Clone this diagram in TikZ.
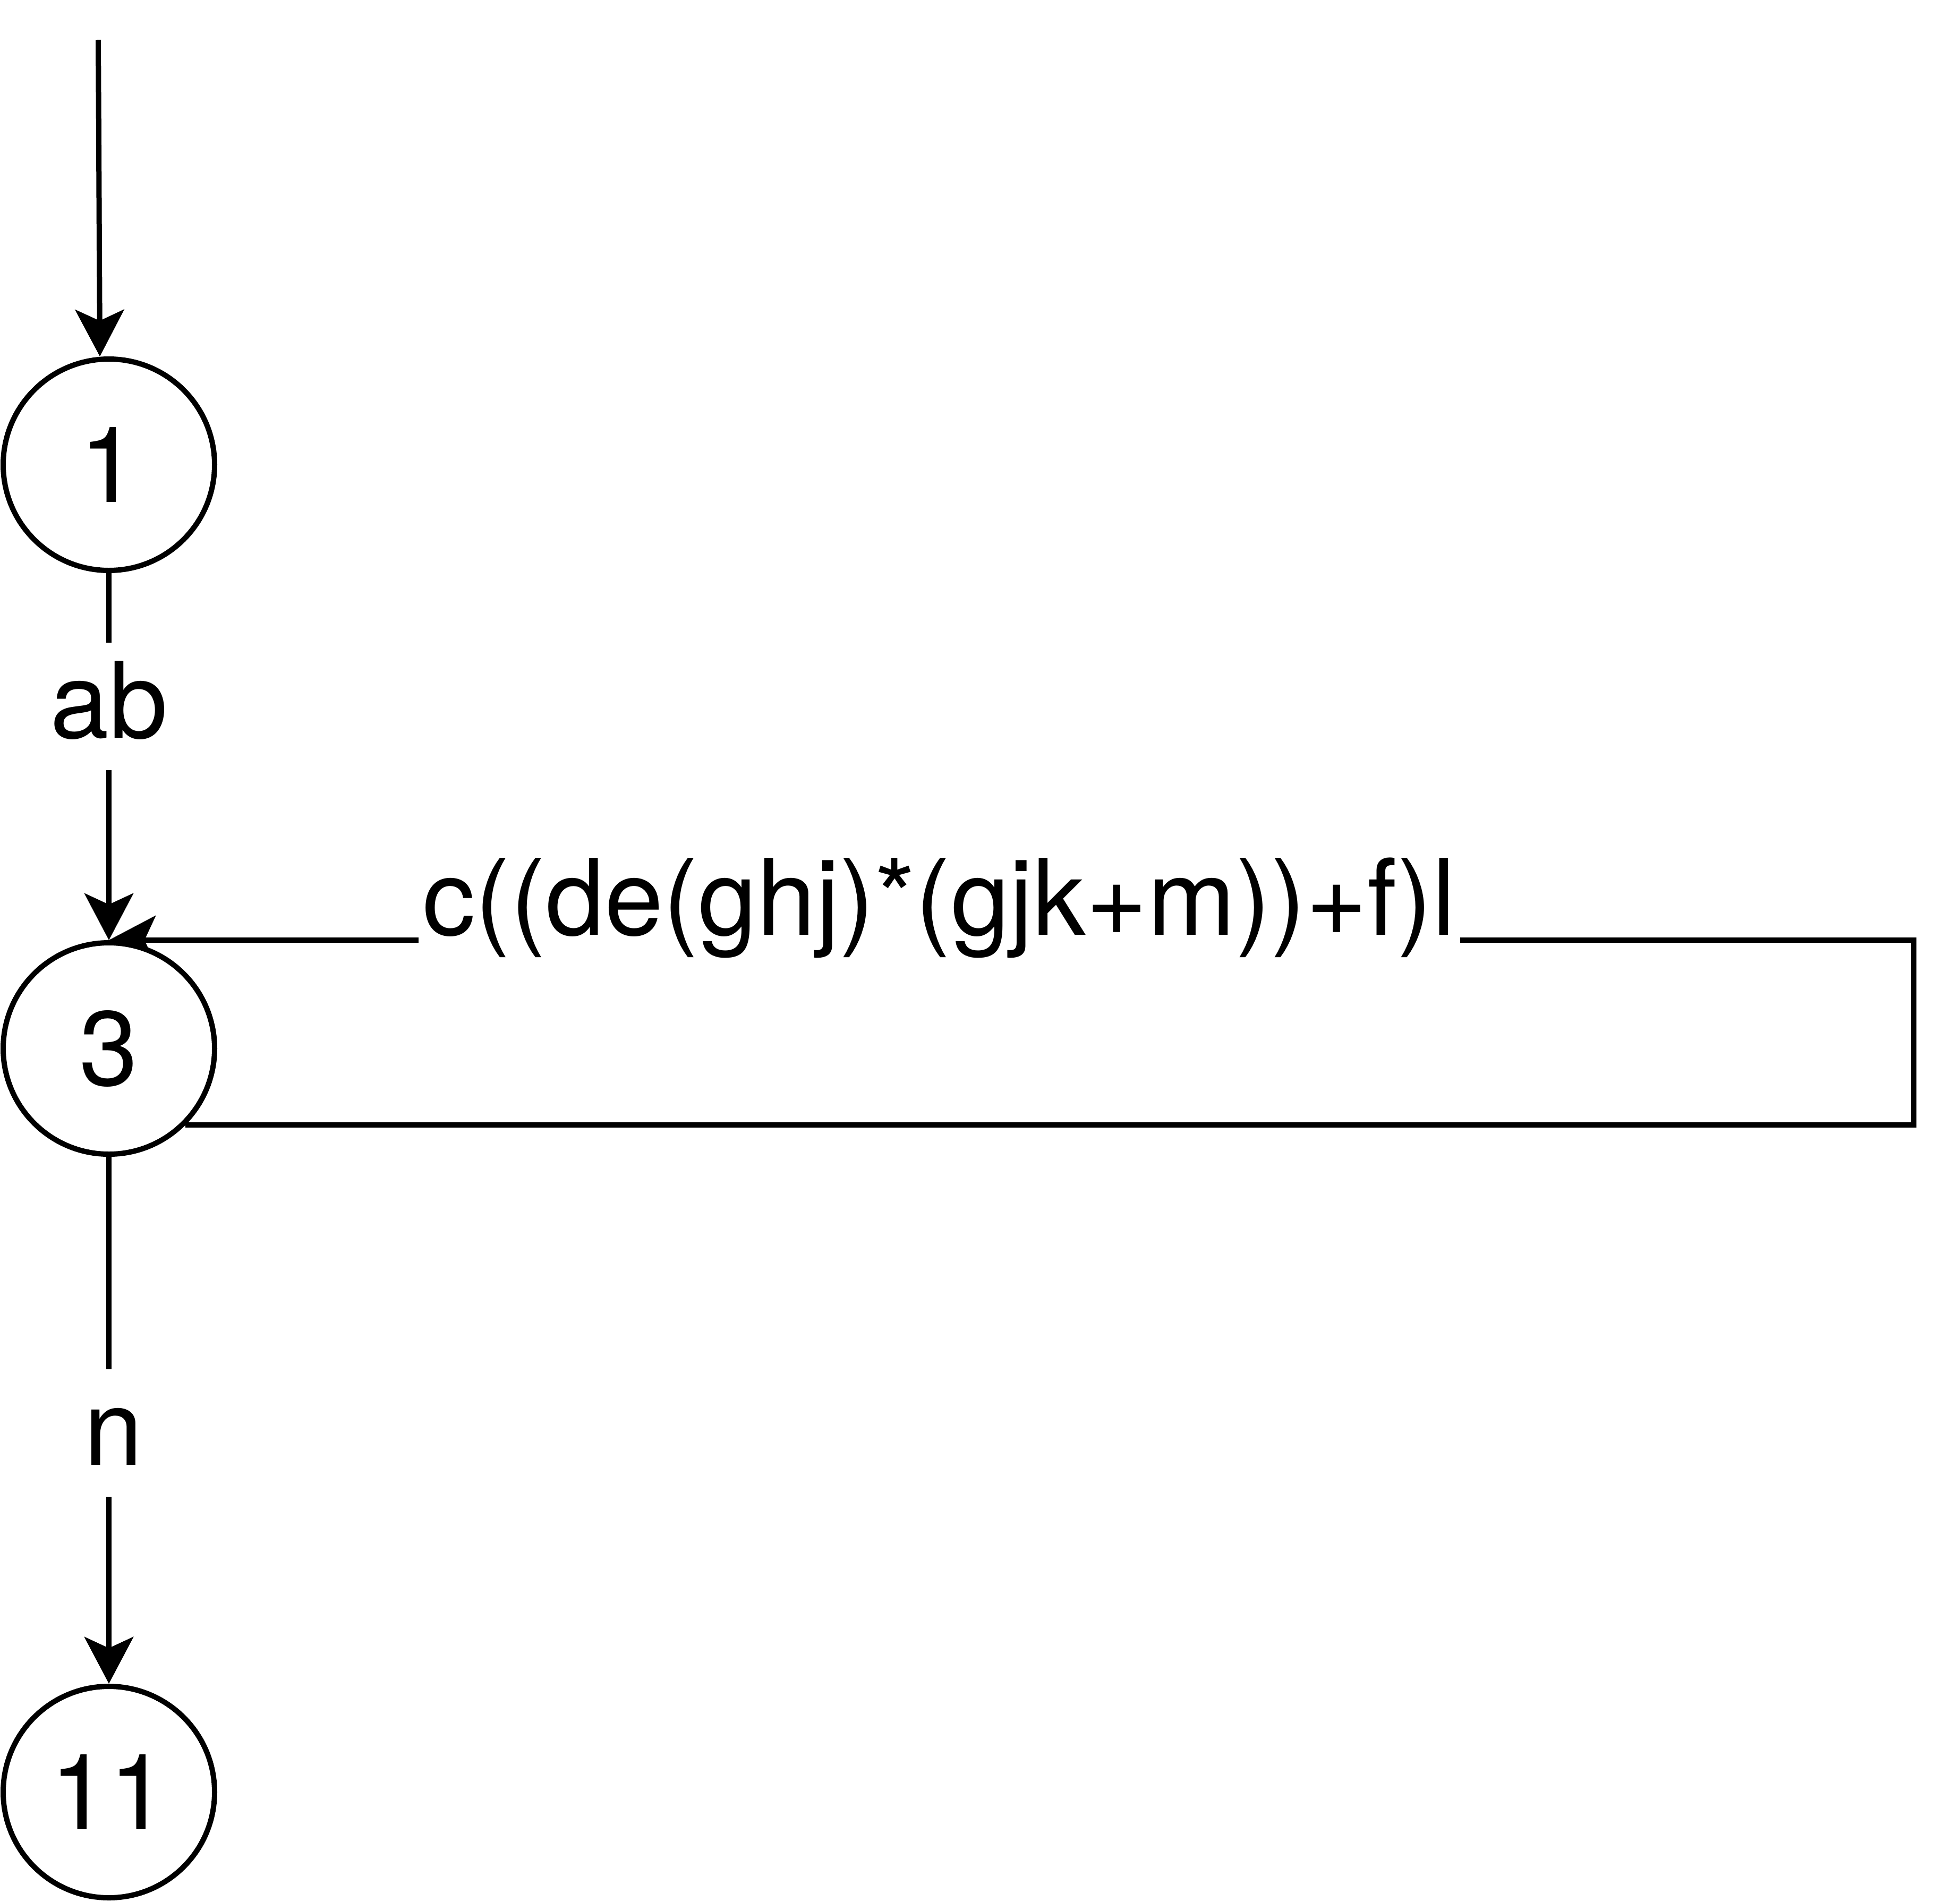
\documentclass[tikz,border=0pt]{standalone}
\usepackage{fontspec}
\setmainfont{TeX Gyre Heros}
\usetikzlibrary{arrows.meta, positioning, backgrounds}

\begin{document}
\begin{tikzpicture}[
        every node/.style={font=\fontsize{56.6pt}{68pt}\selectfont},
        state/.style={draw, circle, line width=1mm, fill=white, minimum size=3.98cm, inner sep=0pt},
        lbl/.style={fill=white, inner xsep=0.08cm, inner ysep=0pt, text height=1.8cm, text depth=0.6cm, anchor=base},
        trans/.style={line width=1mm, -{Stealth[length=0.88cm, width=0.92cm, inset=0.21cm]}}
    ]
        \useasboundingbox (0,0) rectangle (36.9,-35.8);

        % States
        \node[state] (s1) at (2.05,-8.75) {1};
        \node[state, below=6.91cm of s1] (s3) {3};
        \node[state, below=9.92cm of s3] (s11) {11};

        % Free ends
        \coordinate (start) at (1.85,-0.75);
        \coordinate (loopR) at (36.03,-19.74);

        % Transitions
        \begin{scope}[on background layer]
            \draw[trans] (start) -- ([xshift=-0.17cm]s1.north);
            \draw[trans] (s1) -- node[lbl, pos=0.45] {ab} (s3);
            \draw[trans] (s3.south east) -- (s3.south east -| loopR) |- node[lbl, pos=0.77, yshift=0.1cm] {c((de(ghj)*(gjk+m))+f)l} (s3.north);
            \draw[trans] (s3) -- node[lbl, pos=0.585, xshift=0.09cm] {n} (s11);
        \end{scope}
    \end{tikzpicture}
\end{document}
